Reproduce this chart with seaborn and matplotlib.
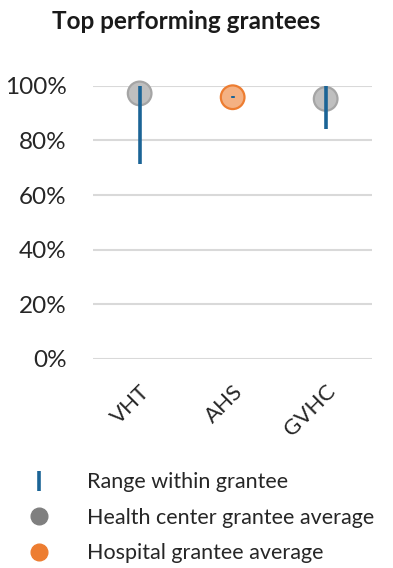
import matplotlib
matplotlib.use("Agg")
import matplotlib.pyplot as plt
from matplotlib.lines import Line2D
import seaborn as sns
import pandas as pd

# Grantees and their scores (fractions of 1)
grantees = ["VHT", "AHS", "GVHC"]
grantee_type = ["Health center", "Hospital", "Health center"]
average = [0.972, 0.958, 0.952]
range_low = [0.715, 0.954, 0.84]
range_high = [1.00, 0.962, 1.00]

y_ticks = [0.0, 0.2, 0.4, 0.6, 0.8, 1.0]
y_tick_labels = ["0%", "20%", "40%", "60%", "80%", "100%"]

df = pd.DataFrame({
    "grantee": pd.Categorical(grantees, categories=grantees, ordered=True),
    "type": grantee_type,
    "average": average,
    "low": range_low,
    "high": range_high,
})

sns.set_style("white")
plt.rcParams["font.family"] = ["Lato", "DejaVu Sans"]

fig = plt.figure(figsize=(3.93, 5.68), dpi=100)
ax = fig.add_axes([0.237, 0.368, 0.71, 0.481])

fill_colors = {"Health center": "#bfbfbf", "Hospital": "#f4b183"}
edge_colors = {"Health center": "#a5a5a5", "Hospital": "#ed7d31"}

sns.scatterplot(data=df, x="grantee", y="average", hue="type",
                palette=fill_colors, ax=ax, s=290, linewidth=1.6,
                zorder=3, clip_on=False, legend=False)
ax.collections[-1].set_edgecolors([edge_colors[t] for t in df["type"]])

# vertical range bars, drawn above the average markers
ax.vlines(x=df["grantee"].cat.codes, ymin=df["low"], ymax=df["high"],
          color="#1b6496", linewidth=2.6, zorder=4, clip_on=False)

ax.set_xlim(-0.5, 2.5)
ax.set_ylim(0, 1.0)
ax.set_yticks(y_ticks)
ax.set_yticklabels(y_tick_labels, fontsize=17.5, color="#262626")
ax.yaxis.grid(True, color="#d9d9d9", linewidth=1.5)
ax.set_axisbelow(True)
ax.tick_params(axis="y", length=0, pad=19)
ax.tick_params(axis="x", length=0, pad=16)
ax.set_xticks(range(len(grantees)))
ax.set_xticklabels(grantees, rotation=45, ha="right", rotation_mode="anchor",
                   fontsize=16, color="#262626")
ax.set_xlabel("")
ax.set_ylabel("")
for s in ax.spines.values():
    s.set_visible(False)

fig.text(0.473, 0.963, "Top performing grantees", ha="center", va="center",
         fontsize=17.5, fontweight="bold", color="#1a1a1a")

handles = [
    Line2D([], [], linestyle="none", marker="|", markersize=15,
           markeredgewidth=2.6, color="#1b6496"),
    Line2D([], [], linestyle="none", marker="o", markersize=12,
           color="#7f7f7f"),
    Line2D([], [], linestyle="none", marker="o", markersize=12,
           color="#ed7d31"),
]
labels = ["Range within grantee", "Health center grantee average",
          "Hospital grantee average"]
fig.legend(handles, labels, loc="lower left", bbox_to_anchor=(-0.005, -0.026),
           frameon=False, fontsize=15.5, handletextpad=1.23,
           labelspacing=0.72, labelcolor="#262626")

fig.savefig("out.png", dpi=100)
